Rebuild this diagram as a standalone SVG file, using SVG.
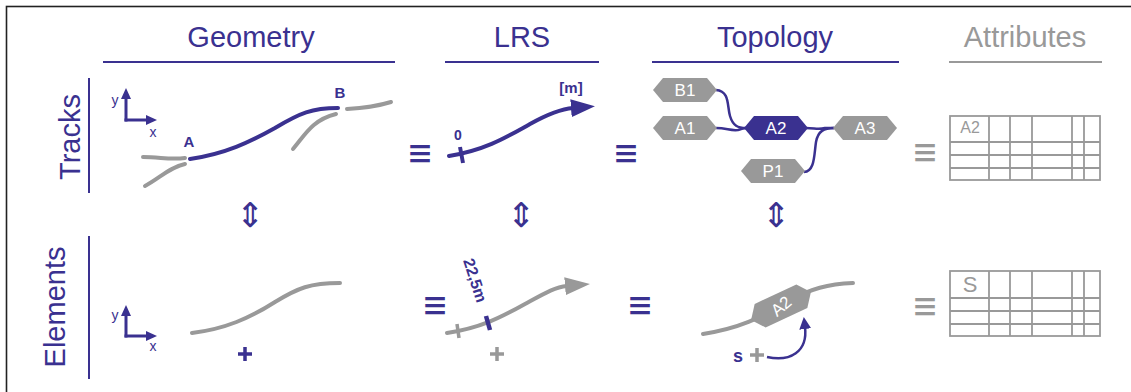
<svg xmlns="http://www.w3.org/2000/svg" width="1131" height="392" viewBox="0 0 1131 392">
<style>
.f{font-family:"Liberation Sans",Arial,Helvetica,sans-serif}
.hdr{font-size:29px;text-anchor:middle}
.pf{fill:#3a3190}
.gf{fill:#999999}
.ps{stroke:#3a3190;fill:none}
.gs{stroke:#999999;fill:none}
.trk{stroke-width:4;stroke-linecap:round;fill:none}
.lbl{font-weight:bold;text-anchor:middle}
.sym{font-family:"DejaVu Sans",sans-serif;text-anchor:middle}
.eq{font-size:26px}
.ud{font-size:34px}
.node{font-size:17px;fill:#ffffff;text-anchor:middle}
.grid{stroke:#999999;stroke-width:1.8;fill:none}
</style>
<defs>
<marker id="axP" markerUnits="userSpaceOnUse" markerWidth="11" markerHeight="10" refX="0" refY="5" orient="auto"><path d="M0,0 L11,5 L0,10 z" fill="#3a3190"/></marker>
<marker id="bigP" markerUnits="userSpaceOnUse" markerWidth="24" markerHeight="18" refX="2" refY="9" orient="auto"><path d="M0,0 L24,9 L0,18 z" fill="#3a3190"/></marker>
<marker id="bigG" markerUnits="userSpaceOnUse" markerWidth="25" markerHeight="18" refX="2" refY="9" orient="auto"><path d="M0,0 L25,9 L0,18 z" fill="#999999"/></marker>
<marker id="smP" markerUnits="userSpaceOnUse" markerWidth="12" markerHeight="12" refX="2" refY="6" orient="auto"><path d="M0,0 L12,6 L0,12 z" fill="#3a3190"/></marker>
<polygon id="hex" points="-32,0 -22,-12 22,-12 32,0 22,12 -22,12"/>
</defs>
<rect x="6.5" y="6.5" width="1140" height="400" fill="none" stroke="#222" stroke-width="1.6"/>

<g id="headers" class="f">
<text class="hdr pf" x="251" y="47">Geometry</text>
<text class="hdr pf" x="522" y="47">LRS</text>
<text class="hdr pf" x="775" y="47">Topology</text>
<text class="hdr gf" x="1025" y="47">Attributes</text>
<line class="ps" stroke-width="2" x1="103" y1="62" x2="395" y2="62"/>
<line class="ps" stroke-width="2" x1="445" y1="62" x2="599" y2="62"/>
<line class="ps" stroke-width="2" x1="652" y1="62" x2="899" y2="62"/>
<line class="gs" stroke-width="2" x1="949" y1="62" x2="1102" y2="62"/>
</g>

<g id="rowlabels" class="f">
<text class="pf" font-size="29" text-anchor="middle" transform="translate(80,137) rotate(-90)">Tracks</text>
<line class="ps" stroke-width="2" x1="89" y1="78" x2="89" y2="193"/>
<text class="pf" font-size="29" text-anchor="middle" transform="translate(65,307) rotate(-90)">Elements</text>
<line class="ps" stroke-width="2" x1="89" y1="236" x2="89" y2="379"/>
</g>

<g id="geometry-track">
<line class="ps" stroke-width="3" x1="126" y1="121.5" x2="126" y2="99" marker-end="url(#axP)"/>
<line class="ps" stroke-width="3" x1="124.5" y1="120" x2="146" y2="120" marker-end="url(#axP)"/>
<text class="f pf" font-size="14" x="115" y="105" text-anchor="middle">y</text>
<text class="f pf" font-size="14" x="153" y="137" text-anchor="middle">x</text>
<path class="gs trk" d="M143,157 C160,157 170,160 185,158"/>
<path class="gs trk" d="M145,186 C160,178 170,167 185,164"/>
<path class="gs trk" d="M293,149 C305,135 312,120 336,114"/>
<path class="gs trk" d="M347,109 C365,108 378,106 391,102"/>
<path class="ps trk" d="M190,159 C225,154 250,142 275,128 C300,113 312,108 338,108"/>
<text class="f lbl pf" font-size="15" x="189" y="147">A</text>
<text class="f lbl pf" font-size="15" x="340" y="98">B</text>
</g>

<g id="lrs-track">
<path class="ps trk" stroke-linecap="butt" d="M449,156 C485,150 505,138 530,124 C548,114 560,109 573,108" marker-end="url(#bigP)"/>
<line class="ps" stroke-width="4" x1="460" y1="147" x2="463" y2="163"/>
<text class="f lbl pf" font-size="14" x="458" y="140">0</text>
<text class="f lbl pf" font-size="15" x="571" y="93">[m]</text>
</g>

<g id="connectors">
<path class="ps" stroke-width="2.5" d="M716,90 C730,91 727,106 730,116 C733,126 738,128 746,128"/>
<path class="ps" stroke-width="2.5" d="M716,128 C727,128 730,131 738,130 C742,129 744,128 746,128"/>
<path class="ps" stroke-width="2.5" d="M806,128 C815,128 818,130 825,128 L834,128"/>
<path class="ps" stroke-width="2.5" d="M804,172 C815,171 814,155 816,142 C818,131 824,128 834,128"/>
</g>

<g id="node-B1"><use href="#hex" x="685" y="90" class="gf"/><text class="f node" x="685" y="96">B1</text></g>
<g id="node-A1"><use href="#hex" x="685" y="128" class="gf"/><text class="f node" x="685" y="134">A1</text></g>
<g id="node-A2"><use href="#hex" x="776" y="128" class="pf"/><text class="f node" x="776" y="134">A2</text></g>
<g id="node-A3"><use href="#hex" x="865" y="128" class="gf"/><text class="f node" x="865" y="134">A3</text></g>
<g id="node-P1"><use href="#hex" x="773" y="171" class="gf"/><text class="f node" x="773" y="177">P1</text></g>

<g id="table-tracks">
<rect class="grid" x="950" y="116" width="150" height="64"/>
<path class="grid" d="M950,142 H1100 M950,155 H1100 M950,168 H1100 M989,116 V180 M1010,116 V180 M1032,116 V180 M1072,116 V180 M1084,116 V180"/>
<text class="f gf" font-size="16" x="970" y="133" text-anchor="middle">A2</text>
</g>

<g id="equivalences" class="sym">
<text class="pf eq" transform="translate(420,155) scale(1.2,1.5)" y="7">≡</text>
<text class="pf eq" transform="translate(626,155) scale(1.2,1.5)" y="7">≡</text>
<text class="gf eq" transform="translate(925,154) scale(1.2,1.5)" y="7">≡</text>
<text class="pf eq" transform="translate(435,306) scale(1.2,1.5)" y="8">≡</text>
<text class="pf eq" transform="translate(640,306) scale(1.2,1.5)" y="8">≡</text>
<text class="gf eq" transform="translate(925,307) scale(1.2,1.5)" y="8">≡</text>
<text class="pf ud" x="250" y="227">⇕</text>
<text class="pf ud" x="521" y="227">⇕</text>
<text class="pf ud" x="776" y="227">⇕</text>
</g>

<g id="geometry-element">
<line class="ps" stroke-width="3" x1="126" y1="337.5" x2="126" y2="316" marker-end="url(#axP)"/>
<line class="ps" stroke-width="3" x1="124.5" y1="336" x2="146" y2="336" marker-end="url(#axP)"/>
<text class="f pf" font-size="14" x="115" y="320" text-anchor="middle">y</text>
<text class="f pf" font-size="14" x="153" y="351" text-anchor="middle">x</text>
<path class="gs trk" d="M192,333 C225,329 250,318 275,302 C298,288 310,283 340,283"/>
<path class="ps" stroke-width="3.5" d="M238,354 H252 M245,347 V361"/>
</g>

<g id="lrs-element">
<path class="gs trk" stroke-linecap="butt" d="M447,333 C480,328 500,318 525,304 C545,293 555,287 567,286" marker-end="url(#bigG)"/>
<line class="gs" stroke-width="3.5" x1="457" y1="324" x2="459" y2="338"/>
<line class="ps" stroke-width="4.5" x1="486" y1="316" x2="490" y2="330"/>
<text class="f lbl pf" font-size="16" transform="translate(470,282) rotate(72)">22,5m</text>
<path class="gs" stroke-width="3.5" d="M490,354 H504 M497,347 V361"/>
</g>

<g id="topology-element">
<path class="gs trk" d="M703,334 C740,328 760,318 785,303 C810,288 830,284 853,283"/>
<g transform="translate(781,306) rotate(-25)">
<polygon points="-33,0 -23,-13 23,-13 33,0 23,13 -23,13" fill="#999999"/>
<text class="f node" x="0" y="6" transform="rotate(-15)">A2</text>
</g>
<text class="f lbl pf" font-size="18" x="738" y="362">s</text>
<path class="gs" stroke-width="3.5" d="M750,355 H764 M757,348 V362"/>
<path class="ps" stroke-width="2.5" d="M767,357 C790,362 808,352 805,327" marker-end="url(#smP)"/>
</g>

<g id="table-elements">
<rect class="grid" x="950" y="271" width="150" height="65"/>
<path class="grid" d="M950,298 H1100 M950,311 H1100 M950,324 H1100 M989,271 V336 M1010,271 V336 M1032,271 V336 M1072,271 V336 M1084,271 V336"/>
<text class="f gf" font-size="22" x="970" y="292" text-anchor="middle">S</text>
</g>
</svg>
